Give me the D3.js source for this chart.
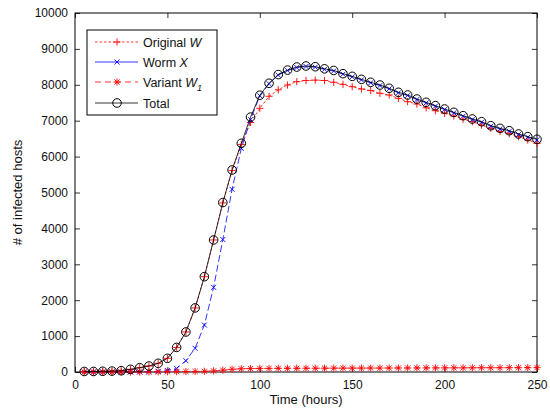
<!DOCTYPE html>
<html>
<head>
<meta charset="utf-8">
<script src="https://cdn.jsdelivr.net/npm/d3@7"></script>
<style>
  body { margin: 0; background: #fff; }
  svg text { font-family: "Liberation Sans", Arial, sans-serif; fill: #111; }
</style>
</head>
<body>
<div id="chart"></div>
<script>
// values, one point every 5 hours
var hours = [5,10,15,20,25,30,35,40,45,50,55,60,65,70,75,80,85,90,95,100,
  105,110,115,120,125,130,135,140,145,150,155,160,165,170,175,180,185,190,195,200,
  205,210,215,220,225,230,235,240,245,250];

var originalW = [15,15,20,25,36,75,120,167,242,381,685,1115,1785,2655,3677,4710,5610,6340,
  6950,7345,7680,7860,7994,8087,8120,8130,8120,8070,8013,7947,7883,7840,7763,7716,7623,
  7530,7465,7360,7279,7206,7131,7040,6972,6880,6787,6700,6640,6555,6462,6369];

var wormX = [0,0,0,0,2,4,6,10,18,40,100,315,660,1309,2359,3690,5089,6230,7030,
  7695,8030,8270,8395,8480,8510,8490,8430,8385,8295,8220,8137,8055,7980,7888,7776,7701,
  7589,7497,7404,7311,7218,7125,7032,6957,6846,6772,6706,6615,6540,6467];

var variantW1 = [0,0,0,0,0,0,0,2,5,8,10,12,15,20,30,50,75,90,95,
  100,100,102,103,104,105,105,106,107,108,108,109,110,110,111,112,112,113,114,114,
  115,116,116,117,118,118,119,120,120,121,122];

var total = [15,15,20,25,36,75,120,167,242,381,685,1115,1785,2655,3677,4720,5627,6370,
  7100,7710,8042,8285,8410,8495,8524,8504,8445,8400,8310,8235,8152,8070,7994,7903,7791,
  7716,7604,7512,7419,7326,7233,7140,7047,6972,6861,6787,6721,6630,6555,6482];

var xTicks = [0,50,100,150,200,250];
var yTicks = [0,1000,2000,3000,4000,5000,6000,7000,8000,9000,10000];

var series = [
  { name: "Original", sym: "W", sub: null, values: originalW, color: "#ff0000", dash: "2.5,2", legendDash: "2.5,2", marker: "plus" },
  { name: "Worm", sym: "X", sub: null, values: wormX, color: "#0000ff", dash: "7,3", legendDash: null, marker: "cross" },
  { name: "Variant", sym: "W", sub: "1", values: variantW1, color: "#ff0000", dash: "6,4", legendDash: "6,4", marker: "star" },
  { name: "Total", sym: null, sub: null, values: total, color: "#000000", dash: null, legendDash: null, marker: "circle" }
];

var width = 550, height = 410;
var x = d3.scaleLinear().domain([0, 250]).range([75, 537]);
var y = d3.scaleLinear().domain([0, 10000]).range([372, 13]);

var svg = d3.select("#chart").append("svg")
  .attr("width", width).attr("height", height);

// marker path for the matlab style symbols
function markerPath(type) {
  if (type == "plus") return "M-3.6,0H3.6M0,-3.6V3.6";
  if (type == "cross") return "M-2.5,-2.5L2.5,2.5M-2.5,2.5L2.5,-2.5";
  if (type == "star") return "M-3.6,0H3.6M0,-3.6V3.6M-2.6,-2.6L2.6,2.6M-2.6,2.6L2.6,-2.6";
  return null;
}

function drawMarker(g, s) {
  if (s.marker == "circle") {
    g.append("circle").attr("r", 4.3)
      .attr("fill", "none").attr("stroke", s.color).attr("stroke-width", 1);
  } else {
    g.append("path").attr("d", markerPath(s.marker))
      .attr("fill", "none").attr("stroke", s.color).attr("stroke-width", 0.9);
  }
}

// axes, ticks pointing inward on all four sides
var fontSize = 12;
var gx = svg.append("g").attr("transform", "translate(0,372)")
  .call(d3.axisBottom(x).tickValues(xTicks).tickSize(-5).tickPadding(8).tickFormat(d3.format("d")));
var gy = svg.append("g").attr("transform", "translate(75,0)")
  .call(d3.axisLeft(y).tickValues(yTicks).tickSize(-5).tickPadding(7).tickFormat(d3.format("d")));
var gt = svg.append("g").attr("transform", "translate(0,13)")
  .call(d3.axisTop(x).tickValues(xTicks).tickSize(-5).tickFormat(""));
var gr = svg.append("g").attr("transform", "translate(537,0)")
  .call(d3.axisRight(y).tickValues(yTicks).tickSize(-5).tickFormat(""));

[gx, gy, gt, gr].forEach(function(g){
  g.select(".domain").remove();
  g.selectAll("line").attr("stroke", "#000").attr("stroke-width", 0.8);
  g.selectAll("text").attr("font-size", fontSize).attr("font-family", null).attr("fill", "#111");
});

svg.append("rect")
  .attr("x", x(0)).attr("y", y(10000))
  .attr("width", x(250) - x(0)).attr("height", y(0) - y(10000))
  .attr("fill", "none").attr("stroke", "#000").attr("stroke-width", 1);

// axis titles
svg.append("text")
  .attr("x", (x(0) + x(250)) / 2).attr("y", 404)
  .attr("text-anchor", "middle").attr("font-size", 13)
  .text("Time (hours)");
svg.append("text")
  .attr("transform", "translate(22," + ((y(0) + y(10000)) / 2) + ") rotate(-90)")
  .attr("text-anchor", "middle").attr("font-size", 13)
  .text("# of infected hosts");

// series lines and markers
var line = d3.line()
  .x(function(d){ return x(d.t); })
  .y(function(d){ return y(d.v); });

var seriesG = svg.append("g").selectAll("g.series").data(series)
  .enter().append("g").attr("class", "series");

seriesG.append("path")
  .attr("d", function(s){
    return line(s.values.map(function(v, i){ return { t: hours[i], v: v }; }));
  })
  .attr("fill", "none")
  .attr("stroke", function(s){ return s.color; })
  .attr("stroke-width", 0.8)
  .attr("stroke-dasharray", function(s){ return s.dash; });

seriesG.each(function(s){
  var pts = d3.select(this).selectAll("g.pt")
    .data(s.values.map(function(v, i){ return { t: hours[i], v: v }; }))
    .enter().append("g").attr("class", "pt")
    .attr("transform", function(d){ return "translate(" + x(d.t) + "," + y(d.v) + ")"; });
  pts.each(function(){ drawMarker(d3.select(this), s); });
});

// legend
var legend = svg.append("g");
legend.append("rect")
  .attr("x", 87).attr("y", 30).attr("width", 130).attr("height", 85)
  .attr("fill", "#fff").attr("stroke", "#000").attr("stroke-width", 1);

var rowY = [42, 62, 82, 103];
var rows = legend.selectAll("g.row").data(series)
  .enter().append("g").attr("class", "row")
  .attr("transform", function(d, i){ return "translate(0," + rowY[i] + ")"; });

rows.append("line")
  .attr("x1", 95).attr("x2", 138).attr("y1", 0).attr("y2", 0)
  .attr("stroke", function(s){ return s.color; })
  .attr("stroke-width", 0.8)
  .attr("stroke-dasharray", function(s){ return s.legendDash; });

rows.each(function(s){
  var m = d3.select(this).append("g").attr("transform", "translate(117,0)");
  drawMarker(m, s);
  var t = d3.select(this).append("text")
    .attr("x", 143).attr("y", 4.5).attr("font-size", 12.5);
  t.append("tspan").text(s.name + (s.sym ? " " : ""));
  if (s.sym) t.append("tspan").attr("font-style", "italic").text(s.sym);
  if (s.sub) t.append("tspan").attr("font-style", "italic").attr("font-size", 9).attr("dy", 4).text(s.sub);
});
</script>
</body>
</html>
